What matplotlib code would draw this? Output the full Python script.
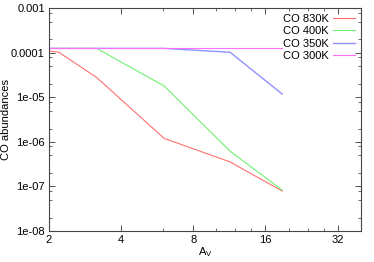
import matplotlib
matplotlib.use('Agg')
import matplotlib.pyplot as plt
import matplotlib.ticker as mticker
import numpy as np

plt.rcParams['font.family'] = ['Liberation Sans', 'DejaVu Sans']

# data
av = [2.0, 2.2, 3.16, 6.05, 11.4, 18.8]
co_830 = [1.1e-4, 1.03e-4, 2.8e-5, 1.2e-6, 3.55e-7, 7.9e-8]
co_400 = [1.26e-4, 1.26e-4, 1.26e-4, 1.8e-5, 6.2e-7, 8.3e-8]
co_350 = [1.26e-4, 1.26e-4, 1.26e-4, 1.26e-4, 1.03e-4, 1.19e-5]
co_300 = [1.26e-4, 1.26e-4, 1.26e-4, 1.26e-4, 1.26e-4, 1.26e-4]

x_ticks = [2, 4, 8, 16, 32]
x_minor = [6, 10, 12, 14, 20, 24, 28]
y_ticks = [1e-3, 1e-4, 1e-5, 1e-6, 1e-7, 1e-8]
y_labels = ['0.001', '0.0001', '1e-05', '1e-06', '1e-07', '1e-08']

fig = plt.figure(figsize=(3.74, 2.62), dpi=100)
ax = fig.add_axes([0.131, 0.1183, 0.8335, 0.85])

ax.plot(av, co_830, color='#ff7070', lw=0.8, label='CO 830K')
ax.plot(av, co_400, color='#70f070', lw=0.8, label='CO 400K')
ax.plot(av, co_350, color='#9090ff', lw=1.0, label='CO 350K')
ax.plot(av, co_300, color='#ff70ff', lw=0.8, label='CO 300K')

ax.set_xscale('log', base=2)
ax.set_yscale('log')
ax.set_xlim(2, 40)
ax.set_ylim(1e-8, 1e-3)

ax.set_xticks(x_ticks)
ax.set_xticklabels([str(t) for t in x_ticks])
ax.xaxis.set_minor_locator(mticker.FixedLocator(x_minor))
ax.xaxis.set_minor_formatter(mticker.NullFormatter())
ax.set_yticks(y_ticks)
ax.set_yticklabels(y_labels)
ax.yaxis.set_minor_locator(mticker.LogLocator(base=10, subs=[2, 5, 8]))
ax.yaxis.set_minor_formatter(mticker.NullFormatter())

ax.tick_params(which='both', direction='in', top=True, right=True,
               labelsize=8, colors='#333333', labelcolor='black', pad=3)
ax.tick_params(which='major', length=4, width=0.6)
ax.tick_params(which='minor', length=2, width=0.5)
for s in ax.spines.values():
    s.set_color('#444444')
    s.set_linewidth(0.8)

ax.set_xlabel('A$_\\mathregular{V}$', fontsize=8, labelpad=0)
ax.set_ylabel('CO abundances', fontsize=8)
ax.yaxis.set_label_coords(-0.122, 0.5)

ax.legend(loc='upper right', markerfirst=False, frameon=False, fontsize=8,
          handlelength=2.0, handletextpad=0.4, labelspacing=0.22,
          borderaxespad=0.1)

fig.savefig('out.png', dpi=100)
